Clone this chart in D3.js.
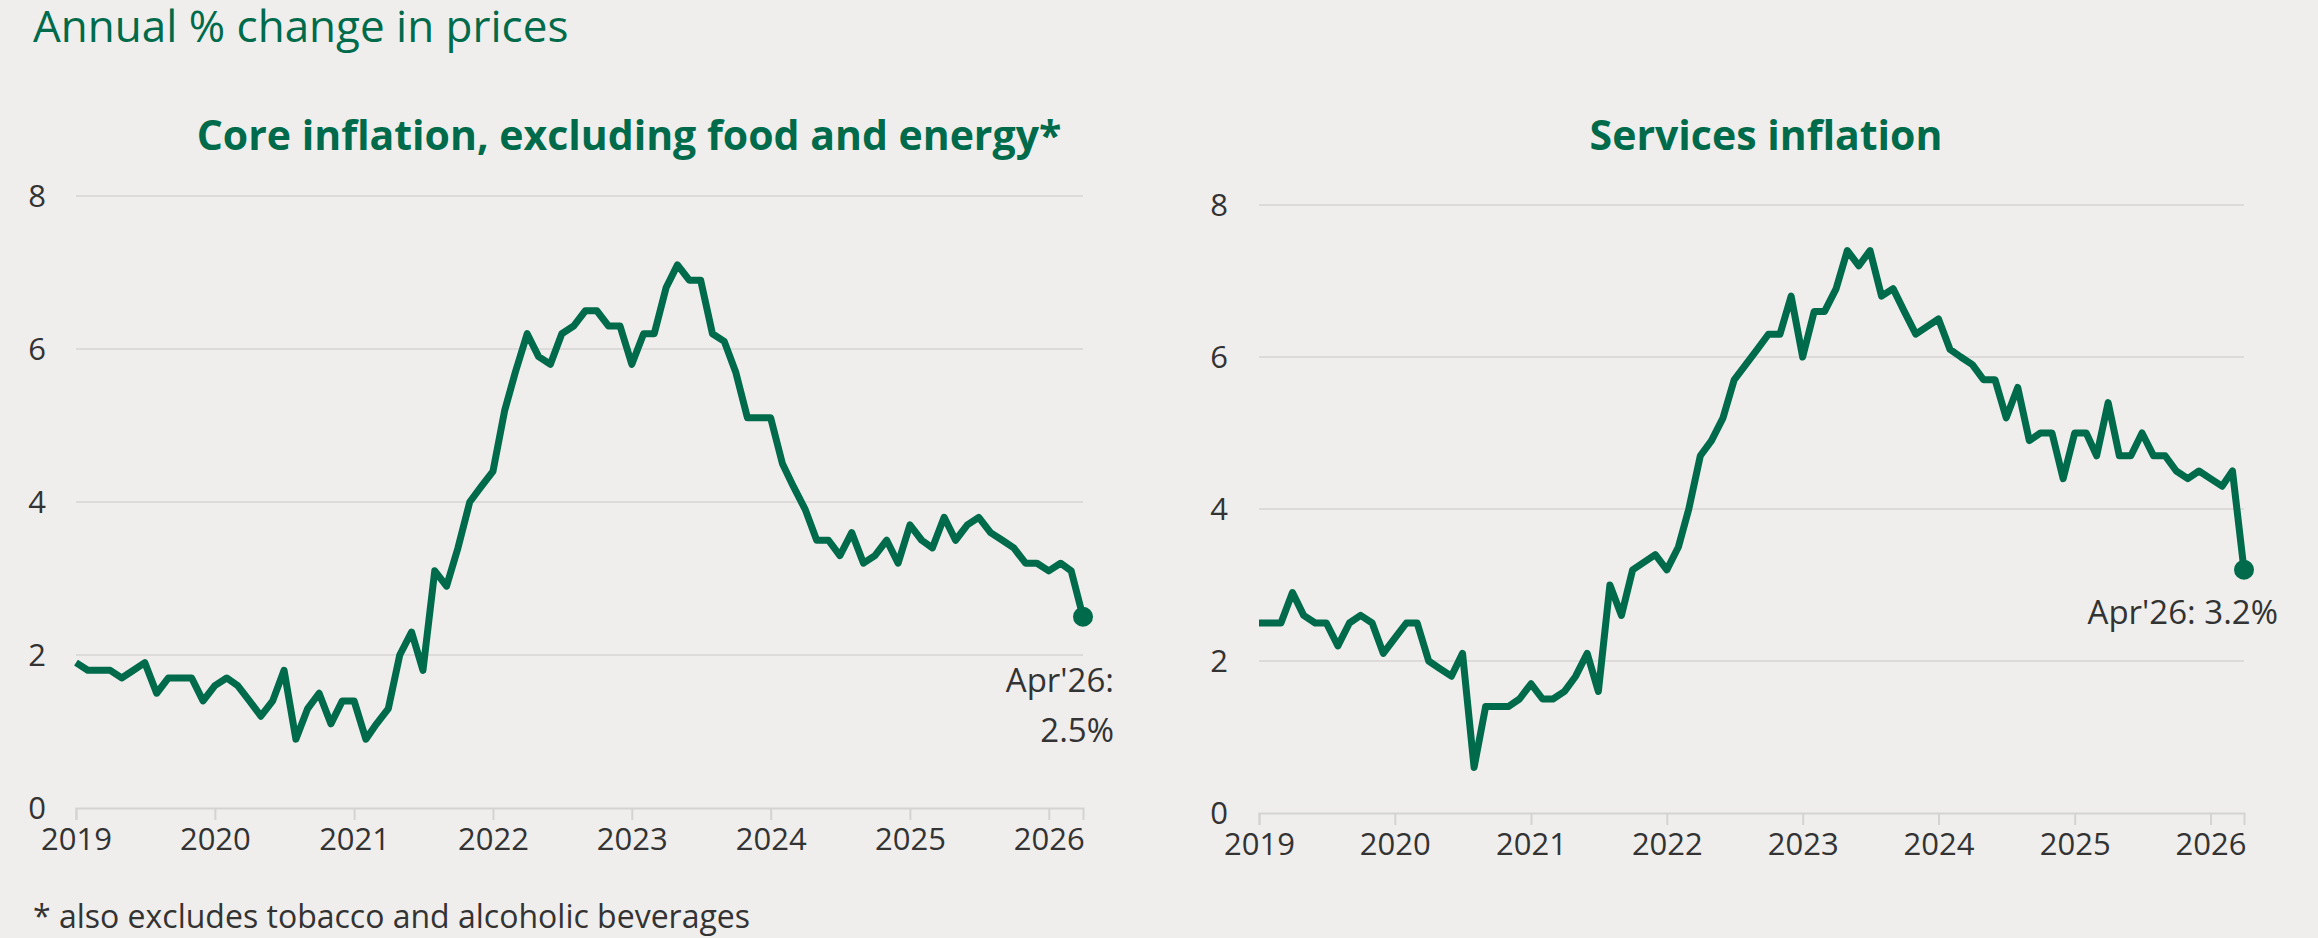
<!DOCTYPE html>
<html>
<head>
<meta charset="utf-8">
<script src="https://cdn.jsdelivr.net/npm/d3@7"></script>
<style>
  body { margin: 0; background: #efeeed; }
  text { font-family: "Open Sans", sans-serif; }
</style>
</head>
<body>
<svg id="chart" width="2318" height="938"></svg>
<script>
// monthly, Jan 2019 .. Apr 2026
var startDate = new Date(2019, 0, 1);
var coreValues = [
  1.9,1.8,1.8,1.8,1.7,1.8,1.9,1.5,1.7,1.7,1.7,1.4,
  1.6,1.7,1.6,1.4,1.2,1.4,1.8,0.9,1.3,1.5,1.1,1.4,
  1.4,0.9,1.1,1.3,2.0,2.3,1.8,3.1,2.9,3.4,4.0,4.2,
  4.4,5.2,5.7,6.2,5.9,5.8,6.2,6.3,6.5,6.5,6.3,6.3,
  5.8,6.2,6.2,6.8,7.1,6.9,6.9,6.2,6.1,5.7,5.1,5.1,
  5.1,4.5,4.2,3.9,3.5,3.5,3.3,3.6,3.2,3.3,3.5,3.2,
  3.7,3.5,3.4,3.8,3.5,3.7,3.8,3.6,3.5,3.4,3.2,3.2,
  3.1,3.2,3.1,2.5
];
var servicesValues = [
  2.5,2.5,2.5,2.9,2.6,2.5,2.5,2.2,2.5,2.6,2.5,2.1,
  2.3,2.5,2.5,2.0,1.9,1.8,2.1,0.6,1.4,1.4,1.4,1.5,
  1.7,1.5,1.5,1.6,1.8,2.1,1.6,3.0,2.6,3.2,3.3,3.4,
  3.2,3.5,4.0,4.7,4.9,5.2,5.7,5.9,6.1,6.3,6.3,6.8,
  6.0,6.6,6.6,6.9,7.4,7.2,7.4,6.8,6.9,6.6,6.3,6.4,
  6.5,6.1,6.0,5.9,5.7,5.7,5.2,5.6,4.9,5.0,5.0,4.4,
  5.0,5.0,4.7,5.4,4.7,4.7,5.0,4.7,4.7,4.5,4.4,4.5,
  4.4,4.3,4.5,3.2
];
var yearTicks = [2019,2020,2021,2022,2023,2024,2025,2026];
var yTicks = [0,2,4,6,8];

var green = "#006b4b";
var svg = d3.select("#chart");

svg.append("text").attr("x", 33).attr("y", 42)
  .attr("fill", green).attr("font-size", 44).attr("font-family", "Lato, sans-serif")
  .text("Annual % change in prices");

svg.append("text").attr("x", 33).attr("y", 928)
  .attr("fill", "#333").attr("font-size", 32)
  .text("* also excludes tobacco and alcoholic beverages");

function panel(opt){
  var data = opt.values.map((v, i) => ({date: d3.timeMonth.offset(startDate, i), v: v}));
  var last = data[data.length - 1];
  var x = d3.scaleTime().domain([startDate, last.date]).range([opt.x0, opt.x1]);
  var y = d3.scaleLinear().domain([0, 8]).range([opt.y0, opt.y8]);
  var g = svg.append("g");

  g.append("text").attr("x", opt.titleX).attr("y", opt.titleY)
    .attr("text-anchor", "middle").attr("fill", green)
    .attr("font-size", 41).attr("font-weight", 700)
    .text(opt.title);

  g.selectAll(".grid").data(yTicks.slice(1)).join("line")
    .attr("x1", opt.x0).attr("x2", opt.x1)
    .attr("y1", d => y(d)).attr("y2", d => y(d))
    .attr("stroke", "#dcdbda").attr("stroke-width", 2);

  g.selectAll(".ylab").data(yTicks).join("text")
    .attr("x", opt.ylabX).attr("y", d => y(d) + 11)
    .attr("text-anchor", "middle").attr("fill", "#333").attr("font-size", 31)
    .text(d => d);

  var xAxis = d3.axisBottom(x)
    .tickValues(yearTicks.map(yr => new Date(yr, 0, 1)))
    .tickFormat(d3.timeFormat("%Y")).tickSize(12).tickPadding(8);
  var ax = g.append("g").attr("transform", "translate(0," + y(0) + ")").call(xAxis);
  ax.select(".domain").attr("stroke", "#d4d3d2").attr("stroke-width", 2);
  ax.selectAll(".tick line").attr("stroke", "#d4d3d2").attr("stroke-width", 2);
  ax.selectAll(".tick text").attr("fill", "#333").attr("font-size", 31)
    .attr("font-family", "Open Sans, sans-serif");

  g.append("path").datum(data)
    .attr("fill", "none").attr("stroke", green).attr("stroke-width", 7)
    .attr("stroke-linejoin", "round")
    .attr("d", d3.line().x(d => x(d.date)).y(d => y(d.v)));

  g.append("circle").attr("cx", x(last.date)).attr("cy", y(last.v))
    .attr("r", 10).attr("fill", green);

  opt.label.forEach((t, i) => {
    g.append("text").attr("x", opt.labelX).attr("y", opt.labelY + i * 50)
      .attr("text-anchor", "end").attr("fill", "#333").attr("font-size", 33)
      .text(t);
  });
}

panel({values: coreValues, x0: 76, x1: 1083, y0: 808, y8: 196,
  title: "Core inflation, excluding food and energy*", titleX: 629, titleY: 150,
  ylabX: 37, label: ["Apr'26:", "2.5%"], labelX: 1114, labelY: 692});
panel({values: servicesValues, x0: 1259, x1: 2244, y0: 813, y8: 205,
  title: "Services inflation", titleX: 1766, titleY: 150,
  ylabX: 1219, label: ["Apr'26:  3.2%"], labelX: 2278, labelY: 624});
</script>
</body>
</html>
